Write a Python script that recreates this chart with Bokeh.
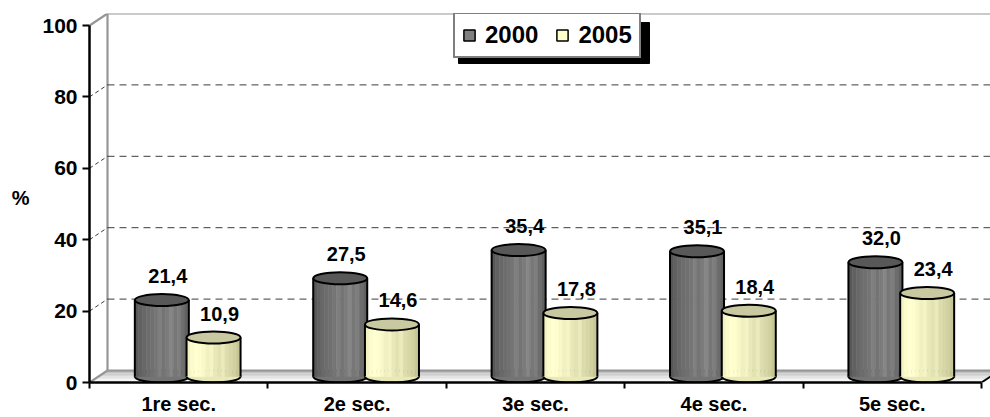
import numpy as np
from bokeh.plotting import figure
from bokeh.models import Range1d, FixedTicker, Legend, LegendItem
from bokeh.core.properties import value
from bokeh.embed import file_html
from bokeh.resources import INLINE

# ---------------- data ----------------
categories = ["1re sec.", "2e sec.", "3e sec.", "4e sec.", "5e sec."]
series_names = ["2000", "2005"]
values_2000 = [21.4, 27.5, 35.4, 35.1, 32.0]
values_2005 = [10.9, 14.6, 17.8, 18.4, 23.4]
y_ticks = [0, 20, 40, 60, 80, 100]
y_label = "%"

# ---------------- geometry / style ----------------
FONT = "Liberation Sans"
PX_X = 178.4          # pixels per category
PX_Y = 3.57           # pixels per percent
DX = 18 / PX_X        # depth offset (x)
DY = 12 / PX_Y        # depth offset (y)
NCAT = len(categories)
X_END = 901 / PX_X
Y_END = 369 / PX_Y
YMAX = y_ticks[-1]
W = 54 / PX_X         # cylinder width
HALF_SEP = 0.145

p = figure(width=990, height=417, output_backend="svg", toolbar_location=None,
           x_range=Range1d(0, X_END), y_range=Range1d(0, Y_END),
           min_border_left=89, min_border_right=0, min_border_top=13,
           min_border_bottom=35)
p.outline_line_color = None
p.xgrid.visible = False
p.ygrid.visible = False
p.background_fill_color = "white"
p.border_fill_color = "white"

# ---------------- floor ----------------
floor_cols = ["#fdfdfd", "#f5f5f5", "#ececec", "#e2e2e2", "#d8d8d8", "#cdcdcd", "#c1c1c1", "#b4b4b4"]
nf = len(floor_cols)
fxs, fys = [], []
for k in range(nf):
    t0, t1 = k / nf, (k + 1) / nf
    fxs.append([t0 * DX, NCAT + t0 * DX, NCAT + t1 * DX, t1 * DX])
    fys.append([t0 * DY, t0 * DY, t1 * DY, t1 * DY])
p.patches(fxs, fys, fill_color=floor_cols, line_color=None)

# ---------------- back wall frame ----------------
wall_x0 = [DX, DX, DX, 0, 0]
wall_y0 = [DY, DY, YMAX + DY, YMAX, 0]
wall_x1 = [X_END, DX, X_END, DX, DX]
wall_y1 = [DY, YMAX + DY, YMAX + DY, YMAX + DY, DY]
p.segment(x0=wall_x0, y0=wall_y0, x1=wall_x1, y1=wall_y1,
          line_color="#969696", line_width=2.2)

# dashed gridlines on back wall + side wall
gv = [v for v in y_ticks if 0 < v < YMAX]
p.segment(x0=[DX] * len(gv), y0=[v + DY for v in gv], x1=[X_END] * len(gv),
          y1=[v + DY for v in gv], line_color="#3c3c3c", line_width=1, line_dash="7 5")
p.segment(x0=[0] * len(gv), y0=gv, x1=[DX] * len(gv), y1=[v + DY for v in gv],
          line_color="#3c3c3c", line_width=1, line_dash="4 3")

# right edge of floor
p.segment(x0=[NCAT], y0=[0], x1=[NCAT + DX], y1=[DY], line_color="black", line_width=2)

# ---------------- cylinders ----------------
gray_body = ["#585858", "#616161", "#686868", "#6d6d6d", "#707070", "#757575", "#7f7f7f",
             "#747474", "#7b7b7b", "#868686", "#777777", "#7d7d7d", "#6d6d6d", "#616161"]
yell_body = ["#f2f2c2", "#fbfbcb", "#ffffd1", "#fdfdce", "#f8f8c8", "#f0f0c0", "#f4f4c6",
             "#e8e8b8", "#e2e2b2", "#eaeabc", "#dcdcac", "#d6d6a6", "#d0d0a0", "#c6c696"]
tops = ["#585858", "#c9c9a1"]


def cylinders(xc, vals, body_cols, top_col):
    xc = np.asarray(xc, dtype=float)
    vals = np.asarray(vals, dtype=float)
    yb = np.full_like(vals, DY / 2)
    yt = vals + DY / 2
    n = len(body_cols)
    p.ellipse(x=xc, y=yb, width=W, height=DY, fill_color=body_cols[n // 2],
              line_color="black", line_width=2)
    L, R, B, T, C = [], [], [], [], []
    for j in range(len(xc)):
        for k in range(n):
            L.append(xc[j] - W / 2 + k * W / n)
            R.append(xc[j] - W / 2 + (k + 1) * W / n)
            B.append(DY / 2)
            T.append(yt[j])
            C.append(body_cols[k])
    p.quad(left=L, right=R, bottom=B, top=T, fill_color=C, line_color=C, line_width=0.6)
    p.segment(x0=list(xc - W / 2) + list(xc + W / 2), y0=list(yb) * 2,
              x1=list(xc - W / 2) + list(xc + W / 2), y1=list(yt) * 2,
              line_color="black", line_width=2)
    p.ellipse(x=xc, y=yt, width=W, height=DY, fill_color=top_col,
              line_color="black", line_width=2)
    labels = [f"{v:.1f}".replace(".", ",") for v in vals]
    p.text(x=xc, y=yt + 24 / PX_Y, text=labels, text_align="center",
           text_baseline="middle", text_font=value(FONT), text_font_style="bold",
           text_font_size="20px", text_color="black", x_offset=6)


pair_c = np.arange(NCAT) + 0.5 + DX / 2
cylinders(pair_c - HALF_SEP, values_2000, gray_body, tops[0])
cylinders(pair_c + HALF_SEP, values_2005, yell_body, tops[1])

# ---------------- axes ----------------
yax = p.yaxis[0]
yax.ticker = FixedTicker(ticks=y_ticks)
yax.bounds = (0, YMAX)
yax.axis_line_color = "black"
yax.axis_line_width = 2.5
yax.major_tick_out = 7
yax.major_tick_in = 0
yax.major_tick_line_width = 2
yax.major_tick_line_color = "black"
yax.minor_tick_line_color = None
yax.major_label_text_font = FONT
yax.major_label_text_font_style = "bold"
yax.major_label_text_font_size = "21px"
yax.major_label_text_color = "black"
yax.major_label_standoff = 5
yax.axis_label = y_label
yax.axis_label_orientation = "horizontal"
yax.axis_label_standoff = 10
yax.axis_label_text_font = FONT
yax.axis_label_text_font_style = "bold"
yax.axis_label_text_font_size = "20px"
yax.axis_label_text_color = "black"

centers = [i + 0.5 for i in range(NCAT)]
xax = p.xaxis[0]
xax.ticker = FixedTicker(ticks=centers, minor_ticks=list(range(0, NCAT + 1)))
xax.major_label_overrides = {c: lab for c, lab in zip(centers, categories)}
xax.bounds = (0, NCAT)
xax.axis_line_color = "black"
xax.axis_line_width = 2.5
xax.major_tick_line_color = None
xax.major_tick_out = 0
xax.major_tick_in = 0
xax.minor_tick_out = 6
xax.minor_tick_in = 0
xax.minor_tick_line_color = "black"
xax.minor_tick_line_width = 2
xax.major_label_text_font = FONT
xax.major_label_text_font_style = "bold"
xax.major_label_text_font_size = "20px"
xax.major_label_text_color = "black"
xax.major_label_standoff = 4

# ---------------- legend ----------------
LEG_X, LEG_Y = 364, 324   # screen offset of legend's bottom-left from frame's bottom-left
LEG_W, LEG_H = 191, 41
SH = 5
p.quad(left=[(LEG_X + SH) / PX_X], right=[(LEG_X + LEG_W + SH) / PX_X],
       bottom=[(LEG_Y - SH) / PX_Y], top=[(LEG_Y + LEG_H - SH) / PX_Y],
       fill_color="black", line_color="black")
# legend-only renderers, placed outside the visible range
r1 = p.quad(left=[-3], right=[-2], top=[-2], bottom=[-3], fill_color="#808080",
            line_color="black", line_width=1.5)
r2 = p.quad(left=[-3], right=[-2], top=[-2], bottom=[-3], fill_color="#ffffcc",
            line_color="black", line_width=1.5)
legend = Legend(items=[LegendItem(label=series_names[0], renderers=[r1]),
                       LegendItem(label=series_names[1], renderers=[r2])],
                location=(LEG_X, LEG_Y), orientation="horizontal",
                glyph_width=14, glyph_height=14, label_standoff=9, spacing=17,
                padding=7, margin=0,
                label_text_font=FONT, label_text_font_style="bold",
                label_text_font_size="24px", label_text_color="black",
                border_line_color="black", border_line_width=2,
                background_fill_color="white", background_fill_alpha=1)
p.add_layout(legend)

open("out.html", "w").write(file_html(p, INLINE))
